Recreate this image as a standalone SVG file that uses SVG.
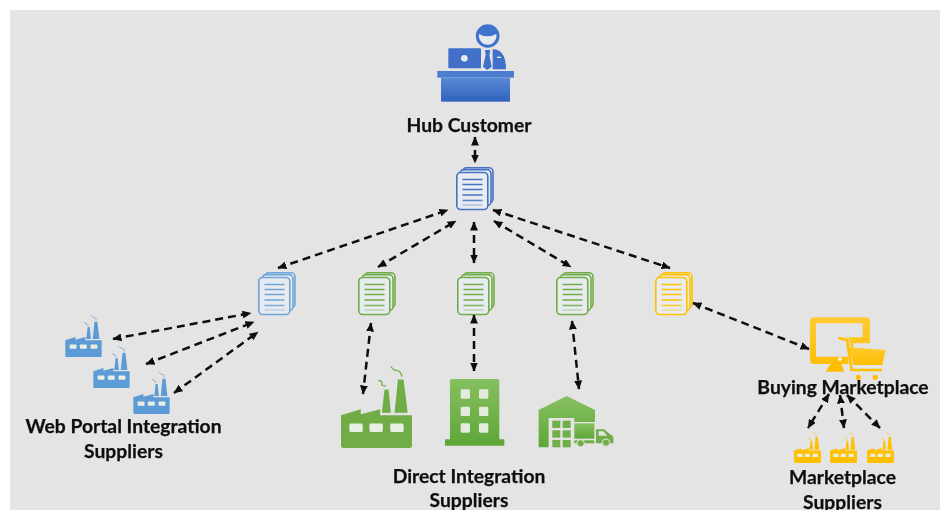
<svg xmlns="http://www.w3.org/2000/svg" width="943" height="510" viewBox="0 0 943 510">
<style>
text{font-family:"Lato","Liberation Sans",sans-serif;font-weight:700;font-size:19.3px;fill:#111;stroke:#111;stroke-width:.25;text-anchor:middle}
.c{fill:none;stroke:#111;stroke-width:2.5;stroke-dasharray:8 5;marker-start:url(#a);marker-end:url(#a)}
.blue{color:#5b9bd5}.hub{color:#4472c4}.green{color:#70ad47}.yellow{color:#ffc000}
.pg{fill:#e8ecf0;stroke:currentColor;stroke-width:1.6;stroke-linejoin:round}
.ln{stroke:currentColor;stroke-width:1.6}
.fa{fill:currentColor}
.sm{fill:none;stroke:currentColor;stroke-width:4}
.w{fill:#e8eee4}
</style>
<defs>
<filter id="b" x="-2%" y="-2%" width="104%" height="104%"><feGaussianBlur stdDeviation="0.45"/></filter>
<marker id="a" markerWidth="10" markerHeight="8" refX="8.5" refY="4" orient="auto-start-reverse" markerUnits="userSpaceOnUse"><path d="M0 0L9 4L0 8z" fill="#111"/></marker>
<linearGradient id="gb" x1="0" y1="0" x2="0" y2="1"><stop offset="0" stop-color="#5b8ad6"/><stop offset="1" stop-color="#2f62bd"/></linearGradient>
<linearGradient id="gg" x1="0" y1="0" x2="0" y2="1"><stop offset="0" stop-color="#86c060"/><stop offset="1" stop-color="#5fa637"/></linearGradient>
<linearGradient id="gy" x1="0" y1="0" x2="0" y2="1"><stop offset="0" stop-color="#ffcb33"/><stop offset="1" stop-color="#fdbd00"/></linearGradient>
<symbol id="doc" viewBox="0 0 38 43" overflow="visible">
<rect class="pg" x="6.5" y="0.8" width="30.5" height="35" rx="4"/>
<rect class="pg" x="4" y="2.6" width="31" height="36" rx="4"/>
<rect class="pg" x="0.8" y="5.5" width="31" height="37" rx="4"/>
<path class="ln" d="M6.5 12.5H26.5M6.5 17.5H26.5M6.5 22.5H26.5M6.5 28H26.5"/>
<path class="ln" d="M6.5 33.5H26.5" style="stroke-opacity:.85"/>
<path class="ln" d="M6.5 38H26.5" style="stroke-opacity:.35"/>
</symbol>
<symbol id="fac" viewBox="0 0 212 245" overflow="visible">
<path class="fa" d="M0 147L59 129V144L117 129V147H212V238Q212 245 205 245H7Q0 245 0 238Z"/>
<path class="fa" d="M122 140L130 70H142L149 140ZM160 140L170 40H187L199 140Z"/>
<path class="sm" d="M112 44Q125 45 122 52T135 60M149 2Q158 14 168 14T182 32"/>
<rect class="w" x="25" y="172" width="40" height="25" rx="4"/><rect class="w" x="85" y="172" width="40" height="25" rx="4"/><rect class="w" x="147" y="172" width="40" height="25" rx="4"/>
</symbol>
</defs>
<rect x="10" y="10" width="930" height="500" fill="#e4e4e4"/>
<g filter="url(#b)">
<g id="hub-customer">
<g transform="translate(400 10) scale(.3333)">
<rect x="112" y="183" width="230" height="20" fill="#4d7dcf"/>
<rect x="123" y="203" width="207" height="72" fill="url(#gb)"/>
<rect x="145" y="115" width="98" height="60" rx="3" fill="#3f6fc8"/>
<circle cx="193" cy="145" r="10" fill="#e6e9ee"/>
<circle cx="263" cy="78" r="31" fill="#e6e9ee" stroke="#3f73cc" stroke-width="9"/>
<path d="M232 70Q262 88 294 70Q292 47 263 47Q234 47 232 70Z" fill="#3f73cc"/>
<path d="M255 120H271L268 135L275 170L262 180L249 170L257 135Z" fill="#3f6fc8"/>
<path d="M278 178V118Q318 118 318 178Z" fill="#3f6fc8"/>
<rect x="291" y="140" width="12" height="4" fill="#e6e9ee"/>
</g>
<text x="469" y="132">Hub Customer</text>
</g>
<g id="hub-doc" class="hub"><use href="#doc" x="456" y="167" width="38" height="43"/></g>
<g id="web-portal-doc" class="blue" opacity=".85"><use href="#doc" x="258" y="272" width="38" height="43"/></g>
<g id="direct-doc-1" class="green"><use href="#doc" x="358" y="272" width="38" height="43"/></g>
<g id="direct-doc-2" class="green"><use href="#doc" x="457" y="272" width="38" height="43"/></g>
<g id="direct-doc-3" class="green"><use href="#doc" x="556" y="272" width="38" height="43"/></g>
<g id="marketplace-doc" class="yellow"><use href="#doc" x="655" y="272" width="38" height="43"/></g>
<g id="web-portal-suppliers" class="blue">
<use href="#fac" x="65" y="315" width="37" height="42"/>
<use href="#fac" x="93" y="346" width="37" height="42"/>
<use href="#fac" x="133" y="372" width="37" height="42"/>
<text x="123.500" y="433">Web Portal Integration</text>
<text x="123.500" y="458">Suppliers</text>
</g>
<g id="direct-factory" class="green"><use href="#fac" x="341" y="366" width="71" height="82"/></g>
<g id="direct-building">
<g transform="translate(330 260) scale(.3333)">
<path d="M360 362Q360 357 365 357H503Q508 357 508 362V538H523V557H345V538H360Z" fill="url(#gg)"/>
<g fill="#e2ebdc"><rect x="392" y="388" width="28" height="28" rx="4"/><rect x="447" y="388" width="28" height="28" rx="4"/><rect x="392" y="440" width="28" height="28" rx="4"/><rect x="447" y="440" width="28" height="28" rx="4"/><rect x="392" y="490" width="28" height="28" rx="4"/><rect x="447" y="490" width="28" height="28" rx="4"/></g>
</g>
</g>
<g id="direct-warehouse">
<g transform="translate(330 260) scale(.3333)">
<path d="M626 450L710 408L795 450V486H733V474H656V562H626Z" fill="url(#gg)"/>
<g fill="#6fae47"><rect x="667" y="482" width="24" height="22"/><rect x="698" y="482" width="24" height="22"/><rect x="667" y="511" width="24" height="22"/><rect x="698" y="511" width="24" height="22"/><rect x="667" y="540" width="24" height="22"/><rect x="698" y="540" width="24" height="22"/></g>
<rect x="733" y="490" width="60" height="46" fill="url(#gg)"/>
<rect x="733" y="541" width="60" height="9" fill="#6fae47"/>
<path d="M798 508H822L850 530V550H798Z" fill="#6fae47"/>
<path d="M806 514H820L832 527H806Z" fill="#e4e4e4"/>
<circle cx="752" cy="550" r="11" fill="#6fae47" stroke="#e4e4e4" stroke-width="3"/>
<circle cx="828" cy="548" r="11" fill="#6fae47" stroke="#e4e4e4" stroke-width="3"/>
</g>
</g>
<g id="direct-label"><text x="469" y="483">Direct Integration</text><text x="469" y="507">Suppliers</text></g>
<g id="buying-marketplace">
<g transform="translate(640 260) scale(.3333)">
<path fill-rule="evenodd" d="M522 172H678Q690 172 690 184V250H640V290H625V312H605L612 335H557L572 312H522Q510 312 510 300V184Q510 172 522 172ZM528 190V290H625L615 232H668V190Z" fill="url(#gy)"/>
<circle cx="600" cy="297" r="6" fill="#fff3c8"/>
<path d="M595 234L622 240L640 315H727" fill="none" stroke="#e4e4e4" stroke-width="12"/>
<path d="M628 262L737 270L727 315H640Z" fill="url(#gy)"/>
<path d="M595 234L622 240L635 330H726" fill="none" stroke="#ffc000" stroke-width="8"/>
<circle cx="655" cy="352" r="8" fill="#ffc000"/><circle cx="706" cy="352" r="8" fill="#ffc000"/>
</g>
<text x="843" y="394">Buying Marketplace</text>
</g>
<g id="marketplace-suppliers" class="yellow">
<use href="#fac" x="794" y="432" width="27" height="31"/>
<use href="#fac" x="830" y="432" width="27" height="31"/>
<use href="#fac" x="867" y="432" width="27" height="31"/>
<text x="842.500" y="484">Marketplace</text>
<text x="842.500" y="509">Suppliers</text>
</g>
<g id="connectors">
<path class="c" d="M475 137V163"/>
<path class="c" d="M278 268L448 210"/>
<path class="c" d="M378 267L456 221"/>
<path class="c" d="M474 222V263"/>
<path class="c" d="M494 221L571 267"/>
<path class="c" d="M493 210L670 268"/>
<path class="c" d="M113 339L251 313"/>
<path class="c" d="M146 364L254 322"/>
<path class="c" d="M174 393L258 332"/>
<path class="c" d="M371 323L363 394"/>
<path class="c" d="M474 315V371"/>
<path class="c" d="M572 321L579 389"/>
<path class="c" d="M693 303L809 349"/>
<path class="c" d="M829 394L808 428"/>
<path class="c" d="M840 395L844 428"/>
<path class="c" d="M847 395L880 428"/>
</g>
</g>
</svg>
